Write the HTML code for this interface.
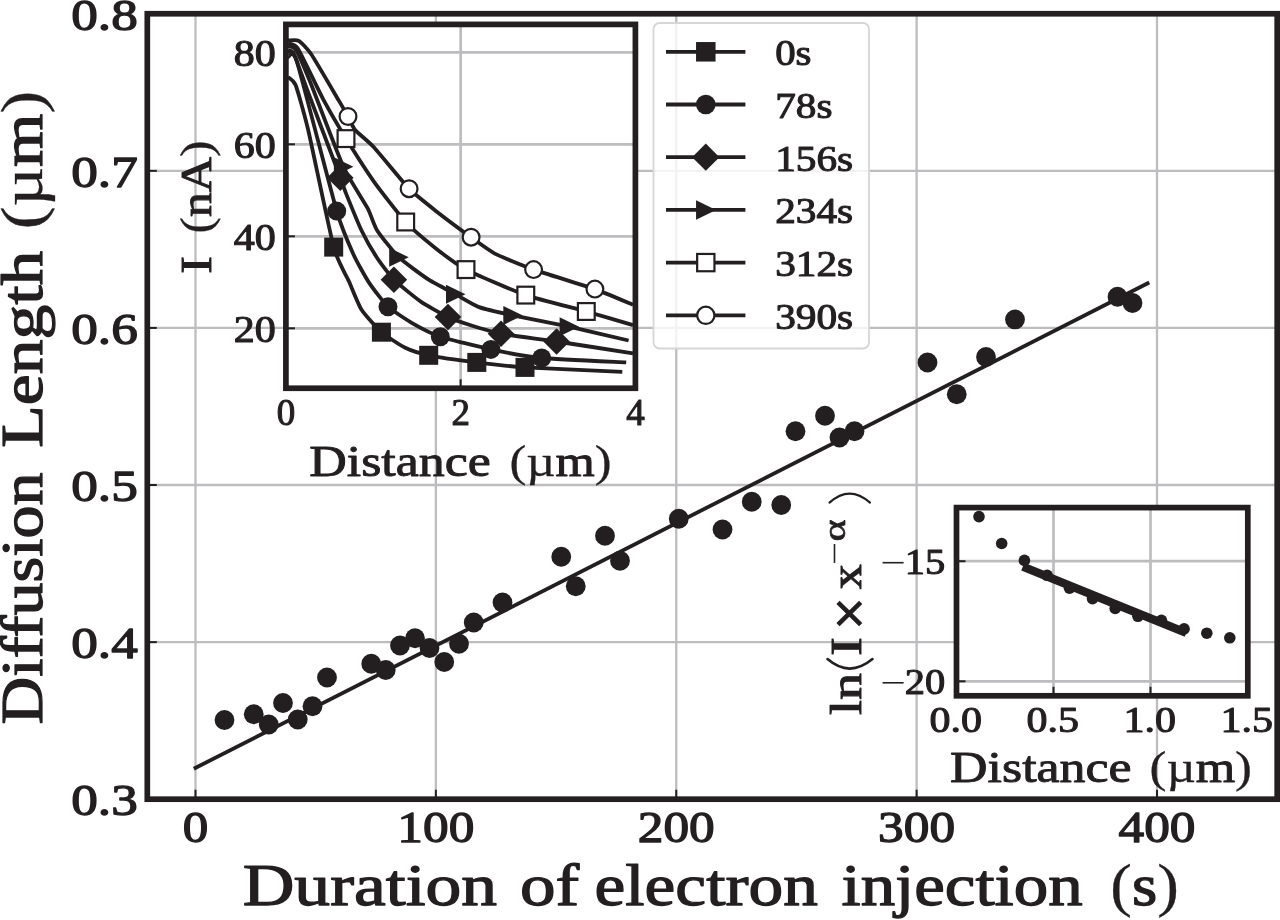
<!DOCTYPE html>
<html><head><meta charset="utf-8"><title>Diffusion length vs duration of electron injection</title>
<style>
html,body{margin:0;padding:0;background:#fff;}
body{width:1280px;height:920px;overflow:hidden;font-family:"Liberation Serif",serif;}
svg{display:block;}
</style></head><body>
<svg width="1280" height="920" viewBox="0 0 1280 920" font-family="Liberation Serif, serif" fill="#231f20">
<defs><filter id="soft" x="-2%" y="-2%" width="104%" height="104%" color-interpolation-filters="sRGB"><feGaussianBlur stdDeviation="0.65"/></filter></defs>
<rect width="1280" height="920" fill="#fff"/>
<g filter="url(#soft)">
<rect x="-20" y="-20" width="1320" height="960" fill="#fff"/>
<line x1="195.50" y1="13.75" x2="195.50" y2="799.20" stroke="#bdbdc0" stroke-width="2.3"/>
<line x1="435.88" y1="13.75" x2="435.88" y2="799.20" stroke="#bdbdc0" stroke-width="2.3"/>
<line x1="676.25" y1="13.75" x2="676.25" y2="799.20" stroke="#bdbdc0" stroke-width="2.3"/>
<line x1="916.62" y1="13.75" x2="916.62" y2="799.20" stroke="#bdbdc0" stroke-width="2.3"/>
<line x1="1157.00" y1="13.75" x2="1157.00" y2="799.20" stroke="#bdbdc0" stroke-width="2.3"/>
<line x1="147.30" y1="642.11" x2="1277.20" y2="642.11" stroke="#bdbdc0" stroke-width="2.3"/>
<line x1="147.30" y1="485.02" x2="1277.20" y2="485.02" stroke="#bdbdc0" stroke-width="2.3"/>
<line x1="147.30" y1="327.93" x2="1277.20" y2="327.93" stroke="#bdbdc0" stroke-width="2.3"/>
<line x1="147.30" y1="170.84" x2="1277.20" y2="170.84" stroke="#bdbdc0" stroke-width="2.3"/>
<line x1="195.50" y1="799.20" x2="195.50" y2="789.70" stroke="#231f20" stroke-width="2"/>
<line x1="435.88" y1="799.20" x2="435.88" y2="789.70" stroke="#231f20" stroke-width="2"/>
<line x1="676.25" y1="799.20" x2="676.25" y2="789.70" stroke="#231f20" stroke-width="2"/>
<line x1="916.62" y1="799.20" x2="916.62" y2="789.70" stroke="#231f20" stroke-width="2"/>
<line x1="1157.00" y1="799.20" x2="1157.00" y2="789.70" stroke="#231f20" stroke-width="2"/>
<line x1="147.30" y1="642.11" x2="156.80" y2="642.11" stroke="#231f20" stroke-width="2"/>
<line x1="147.30" y1="485.02" x2="156.80" y2="485.02" stroke="#231f20" stroke-width="2"/>
<line x1="147.30" y1="327.93" x2="156.80" y2="327.93" stroke="#231f20" stroke-width="2"/>
<line x1="147.30" y1="170.84" x2="156.80" y2="170.84" stroke="#231f20" stroke-width="2"/>
<line x1="193.75" y1="768.75" x2="1149.25" y2="282.5" stroke="#231f20" stroke-width="3.8"/>
<circle cx="224.50" cy="720.00" r="9.9"/>
<circle cx="253.75" cy="714.25" r="9.9"/>
<circle cx="268.75" cy="724.50" r="9.9"/>
<circle cx="283.00" cy="703.00" r="9.9"/>
<circle cx="297.75" cy="719.50" r="9.9"/>
<circle cx="312.50" cy="706.25" r="9.9"/>
<circle cx="327.00" cy="677.50" r="9.9"/>
<circle cx="371.25" cy="663.75" r="9.9"/>
<circle cx="385.75" cy="670.00" r="9.9"/>
<circle cx="400.00" cy="645.50" r="9.9"/>
<circle cx="415.00" cy="638.25" r="9.9"/>
<circle cx="429.50" cy="648.00" r="9.9"/>
<circle cx="444.25" cy="662.00" r="9.9"/>
<circle cx="459.00" cy="643.75" r="9.9"/>
<circle cx="473.75" cy="622.50" r="9.9"/>
<circle cx="502.50" cy="602.50" r="9.9"/>
<circle cx="561.25" cy="556.75" r="9.9"/>
<circle cx="575.75" cy="586.25" r="9.9"/>
<circle cx="605.00" cy="535.75" r="9.9"/>
<circle cx="620.00" cy="560.75" r="9.9"/>
<circle cx="678.75" cy="518.75" r="9.9"/>
<circle cx="722.50" cy="529.50" r="9.9"/>
<circle cx="751.75" cy="501.75" r="9.9"/>
<circle cx="781.25" cy="505.00" r="9.9"/>
<circle cx="795.50" cy="431.25" r="9.9"/>
<circle cx="825.00" cy="415.75" r="9.9"/>
<circle cx="839.50" cy="437.50" r="9.9"/>
<circle cx="854.50" cy="431.25" r="9.9"/>
<circle cx="927.50" cy="362.50" r="9.9"/>
<circle cx="956.75" cy="394.25" r="9.9"/>
<circle cx="986.00" cy="357.00" r="9.9"/>
<circle cx="1015.00" cy="319.40" r="9.9"/>
<circle cx="1117.50" cy="296.75" r="9.9"/>
<circle cx="1132.50" cy="303.00" r="9.9"/>
<rect x="285.90" y="24.40" width="349.50" height="363.85" fill="#fff"/>
<line x1="460.65" y1="24.40" x2="460.65" y2="388.25" stroke="#bdbdc0" stroke-width="2.7"/>
<line x1="285.90" y1="328.30" x2="635.40" y2="328.30" stroke="#bdbdc0" stroke-width="2.7"/>
<line x1="285.90" y1="328.30" x2="294.90" y2="328.30" stroke="#231f20" stroke-width="2"/>
<line x1="285.90" y1="236.30" x2="635.40" y2="236.30" stroke="#bdbdc0" stroke-width="2.7"/>
<line x1="285.90" y1="236.30" x2="294.90" y2="236.30" stroke="#231f20" stroke-width="2"/>
<line x1="285.90" y1="144.30" x2="635.40" y2="144.30" stroke="#bdbdc0" stroke-width="2.7"/>
<line x1="285.90" y1="144.30" x2="294.90" y2="144.30" stroke="#231f20" stroke-width="2"/>
<line x1="285.90" y1="52.30" x2="635.40" y2="52.30" stroke="#bdbdc0" stroke-width="2.7"/>
<line x1="285.90" y1="52.30" x2="294.90" y2="52.30" stroke="#231f20" stroke-width="2"/>
<line x1="460.65" y1="388.25" x2="460.65" y2="379.25" stroke="#231f20" stroke-width="2"/>
<g fill="none" stroke="#231f20" stroke-width="3.8" stroke-linejoin="round">
<path d="M288.00,77.00 C288.71,77.75 293.71,80.05 295.60,85.00 C297.49,89.95 304.64,114.87 308.20,130.00 C311.76,145.13 329.90,232.98 333.70,247.10 C337.50,261.22 346.31,275.48 348.90,281.30 C351.49,287.12 358.37,304.75 361.40,309.50 C364.43,314.25 377.31,328.63 381.40,332.20 C385.49,335.77 400.79,345.64 405.20,347.80 C409.61,349.96 422.02,353.94 428.70,355.30 C435.38,356.66 467.81,361.27 476.80,362.40 C485.79,363.53 511.42,366.52 525.00,367.40 C538.58,368.28 613.22,371.39 622.30,371.80"/>
<path d="M288.00,57.00 C288.84,57.47 292.45,47.62 297.00,62.00 C301.55,76.38 331.42,193.11 336.70,211.10 C341.98,229.09 350.57,248.00 353.60,254.70 C356.63,261.40 365.99,278.05 369.20,282.90 C372.41,287.75 383.91,302.90 388.00,306.70 C392.09,310.50 408.12,320.80 413.00,323.60 C417.88,326.40 433.03,334.29 440.30,336.70 C447.57,339.11 481.44,347.41 490.90,349.40 C500.36,351.39 529.07,356.79 541.70,358.00 C554.33,359.21 618.31,361.99 626.20,362.40"/>
<path d="M288.00,50.00 C288.56,50.37 292.13,50.08 294.00,54.00 C295.87,57.92 303.68,80.45 308.00,92.00 C312.32,103.55 336.78,168.31 340.30,177.70 C343.82,187.09 343.73,187.70 345.70,192.60 C347.67,197.50 358.48,224.11 361.40,230.20 C364.32,236.29 373.97,253.18 377.00,257.80 C380.03,262.42 389.81,275.61 393.90,279.70 C397.99,283.79 415.75,298.12 420.80,301.60 C425.85,305.08 443.41,314.82 448.00,317.00 C452.59,319.18 465.05,323.44 470.00,325.00 C474.95,326.56 492.92,332.16 501.00,333.70 C509.08,335.24 544.28,339.67 556.60,341.50 C568.92,343.33 625.87,352.20 633.00,353.30"/>
<path d="M288.00,46.00 C288.75,46.37 293.85,46.45 296.00,50.00 C298.15,53.55 306.58,73.10 311.00,84.00 C315.42,94.90 338.12,155.21 343.40,166.80 C348.68,178.39 364.46,202.28 367.60,208.20 C370.74,214.12 374.10,225.63 377.00,230.20 C379.90,234.77 393.87,252.58 398.70,257.20 C403.53,261.82 423.40,276.25 428.70,279.70 C434.00,283.15 450.80,291.64 455.50,294.20 C460.20,296.76 473.75,305.12 479.10,307.10 C484.45,309.08 504.40,313.57 512.80,315.40 C521.20,317.23 558.29,324.36 569.10,326.70 C579.91,329.04 623.05,339.21 628.60,340.50"/>
<path d="M288.00,43.30 C288.93,43.81 294.66,43.47 298.00,48.80 C301.34,54.13 319.32,92.02 323.80,100.40 C328.28,108.78 341.32,131.02 346.00,138.60 C350.68,146.18 368.33,173.82 373.90,181.60 C379.47,189.38 399.86,215.72 405.70,222.00 C411.54,228.28 430.87,244.46 436.50,248.90 C442.13,253.34 457.67,265.29 466.00,269.60 C474.33,273.91 514.57,291.19 525.80,295.10 C537.03,299.01 576.29,308.70 586.30,311.50 C596.31,314.30 628.64,323.83 633.00,325.10"/>
<path d="M288.00,40.50 C289.01,40.53 296.63,39.51 298.80,40.80 C300.97,42.09 307.58,48.74 311.30,54.30 C315.02,59.86 335.27,94.59 338.70,100.40 C342.13,106.21 346.47,113.74 348.00,116.50 C349.53,119.26 352.68,127.13 355.10,130.00 C357.52,132.87 368.86,141.72 373.90,147.20 C378.94,152.68 403.26,182.71 409.10,188.70 C414.94,194.69 430.72,206.87 436.50,211.40 C442.28,215.93 465.56,233.26 471.00,237.20 C476.44,241.14 488.96,250.58 494.80,253.60 C500.64,256.62 524.26,266.29 533.60,269.60 C542.94,272.91 585.62,285.81 594.90,289.10 C604.18,292.39 629.44,303.33 633.00,304.80"/>
</g>
<rect x="324.20" y="237.60" width="19.00" height="19.00" fill="#231f20"/>
<rect x="371.90" y="322.70" width="19.00" height="19.00" fill="#231f20"/>
<rect x="419.20" y="345.80" width="19.00" height="19.00" fill="#231f20"/>
<rect x="467.30" y="352.90" width="19.00" height="19.00" fill="#231f20"/>
<rect x="515.50" y="357.90" width="19.00" height="19.00" fill="#231f20"/>
<circle cx="336.70" cy="211.10" r="9.50" fill="#231f20"/>
<circle cx="388.00" cy="306.70" r="9.50" fill="#231f20"/>
<circle cx="440.30" cy="336.70" r="9.50" fill="#231f20"/>
<circle cx="490.90" cy="349.40" r="9.50" fill="#231f20"/>
<circle cx="541.70" cy="358.00" r="9.50" fill="#231f20"/>
<path d="M327.00,177.70 L340.30,164.40 L353.60,177.70 L340.30,191.00 Z" fill="#231f20"/>
<path d="M380.60,279.70 L393.90,266.40 L407.20,279.70 L393.90,293.00 Z" fill="#231f20"/>
<path d="M434.70,317.00 L448.00,303.70 L461.30,317.00 L448.00,330.30 Z" fill="#231f20"/>
<path d="M487.70,333.70 L501.00,320.40 L514.30,333.70 L501.00,347.00 Z" fill="#231f20"/>
<path d="M543.30,341.50 L556.60,328.20 L569.90,341.50 L556.60,354.80 Z" fill="#231f20"/>
<path d="M333.90,157.30 L353.40,166.80 L333.90,176.30 Z" fill="#231f20"/>
<path d="M389.20,247.70 L408.70,257.20 L389.20,266.70 Z" fill="#231f20"/>
<path d="M446.00,284.70 L465.50,294.20 L446.00,303.70 Z" fill="#231f20"/>
<path d="M503.30,305.90 L522.80,315.40 L503.30,324.90 Z" fill="#231f20"/>
<path d="M559.60,317.20 L579.10,326.70 L559.60,336.20 Z" fill="#231f20"/>
<rect x="337.60" y="130.20" width="16.80" height="16.80" fill="#fff" stroke="#231f20" stroke-width="2.2"/>
<rect x="397.30" y="213.60" width="16.80" height="16.80" fill="#fff" stroke="#231f20" stroke-width="2.2"/>
<rect x="457.60" y="261.20" width="16.80" height="16.80" fill="#fff" stroke="#231f20" stroke-width="2.2"/>
<rect x="517.40" y="286.70" width="16.80" height="16.80" fill="#fff" stroke="#231f20" stroke-width="2.2"/>
<rect x="577.90" y="303.10" width="16.80" height="16.80" fill="#fff" stroke="#231f20" stroke-width="2.2"/>
<circle cx="348.00" cy="116.50" r="8.40" fill="#fff" stroke="#231f20" stroke-width="2.2"/>
<circle cx="409.10" cy="188.70" r="8.40" fill="#fff" stroke="#231f20" stroke-width="2.2"/>
<circle cx="471.10" cy="237.20" r="8.40" fill="#fff" stroke="#231f20" stroke-width="2.2"/>
<circle cx="533.60" cy="269.60" r="8.40" fill="#fff" stroke="#231f20" stroke-width="2.2"/>
<circle cx="594.90" cy="289.10" r="8.40" fill="#fff" stroke="#231f20" stroke-width="2.2"/>
<rect x="285.90" y="24.40" width="349.50" height="363.85" fill="none" stroke="#231f20" stroke-width="5.7"/>
<rect x="956.50" y="507.60" width="291.30" height="188.20" fill="#fff"/>
<line x1="1053.50" y1="507.60" x2="1053.50" y2="695.80" stroke="#bdbdc0" stroke-width="2.7"/>
<line x1="1053.50" y1="695.80" x2="1053.50" y2="686.80" stroke="#231f20" stroke-width="2"/>
<line x1="1150.50" y1="507.60" x2="1150.50" y2="695.80" stroke="#bdbdc0" stroke-width="2.7"/>
<line x1="1150.50" y1="695.80" x2="1150.50" y2="686.80" stroke="#231f20" stroke-width="2"/>
<line x1="956.50" y1="561.20" x2="1247.80" y2="561.20" stroke="#bdbdc0" stroke-width="2.7"/>
<line x1="956.50" y1="561.20" x2="965.50" y2="561.20" stroke="#231f20" stroke-width="2"/>
<line x1="956.50" y1="681.30" x2="1247.80" y2="681.30" stroke="#bdbdc0" stroke-width="2.7"/>
<line x1="956.50" y1="681.30" x2="965.50" y2="681.30" stroke="#231f20" stroke-width="2"/>
<circle cx="979.00" cy="516.60" r="5.8"/>
<circle cx="1001.70" cy="543.50" r="5.8"/>
<circle cx="1024.40" cy="560.40" r="5.8"/>
<circle cx="1047.10" cy="575.30" r="5.8"/>
<circle cx="1069.50" cy="588.20" r="5.8"/>
<circle cx="1092.50" cy="598.60" r="5.8"/>
<circle cx="1115.20" cy="608.50" r="5.8"/>
<circle cx="1137.90" cy="616.30" r="5.8"/>
<circle cx="1161.40" cy="620.30" r="5.8"/>
<circle cx="1184.10" cy="628.90" r="5.8"/>
<circle cx="1206.80" cy="633.20" r="5.8"/>
<circle cx="1229.80" cy="637.80" r="5.8"/>
<line x1="1022.8" y1="566.7" x2="1186.3" y2="632.9" stroke="#231f20" stroke-width="8.4"/>
<rect x="956.50" y="507.60" width="291.30" height="188.20" fill="none" stroke="#231f20" stroke-width="5.7"/>
<rect x="653.5" y="23" width="215.5" height="325.5" rx="6" ry="6" fill="#fff" fill-opacity="0.8" stroke="#d6d6d6" stroke-width="1.8"/>
<line x1="666" y1="51.80" x2="745.4" y2="51.80" stroke="#231f20" stroke-width="3.8"/>
<rect x="696.05" y="42.05" width="19.50" height="19.50" fill="#231f20"/>
<text x="775.20" y="65.20" font-size="36.00" font-weight="normal" text-anchor="start" textLength="36.3" lengthAdjust="spacingAndGlyphs"  stroke="#231f20" stroke-width="1.04" stroke-linejoin="round">0s</text>
<line x1="666" y1="104.50" x2="745.4" y2="104.50" stroke="#231f20" stroke-width="3.8"/>
<circle cx="705.80" cy="104.50" r="9.75" fill="#231f20"/>
<text x="775.20" y="117.90" font-size="36.00" font-weight="normal" text-anchor="start" textLength="57.3" lengthAdjust="spacingAndGlyphs"  stroke="#231f20" stroke-width="1.04" stroke-linejoin="round">78s</text>
<line x1="666" y1="157.20" x2="745.4" y2="157.20" stroke="#231f20" stroke-width="3.8"/>
<path d="M692.15,157.20 L705.80,143.55 L719.45,157.20 L705.80,170.85 Z" fill="#231f20"/>
<text x="775.20" y="170.60" font-size="36.00" font-weight="normal" text-anchor="start" textLength="78.0" lengthAdjust="spacingAndGlyphs"  stroke="#231f20" stroke-width="1.04" stroke-linejoin="round">156s</text>
<line x1="666" y1="209.90" x2="745.4" y2="209.90" stroke="#231f20" stroke-width="3.8"/>
<path d="M696.05,200.15 L716.05,209.90 L696.05,219.65 Z" fill="#231f20"/>
<text x="775.20" y="223.30" font-size="36.00" font-weight="normal" text-anchor="start" textLength="78.0" lengthAdjust="spacingAndGlyphs"  stroke="#231f20" stroke-width="1.04" stroke-linejoin="round">234s</text>
<line x1="666" y1="262.60" x2="745.4" y2="262.60" stroke="#231f20" stroke-width="3.8"/>
<rect x="697.15" y="253.95" width="17.30" height="17.30" fill="#fff" stroke="#231f20" stroke-width="2.2"/>
<text x="775.20" y="276.00" font-size="36.00" font-weight="normal" text-anchor="start" textLength="78.0" lengthAdjust="spacingAndGlyphs"  stroke="#231f20" stroke-width="1.04" stroke-linejoin="round">312s</text>
<line x1="666" y1="315.30" x2="745.4" y2="315.30" stroke="#231f20" stroke-width="3.8"/>
<circle cx="705.80" cy="315.30" r="8.65" fill="#fff" stroke="#231f20" stroke-width="2.2"/>
<text x="775.20" y="328.70" font-size="36.00" font-weight="normal" text-anchor="start" textLength="78.0" lengthAdjust="spacingAndGlyphs"  stroke="#231f20" stroke-width="1.04" stroke-linejoin="round">390s</text>
<rect x="147.30" y="13.75" width="1129.90" height="785.45" fill="none" stroke="#231f20" stroke-width="5.7"/>
<text x="104.50" y="815.20" font-size="44.50" font-weight="normal" text-anchor="middle" textLength="66.5" lengthAdjust="spacingAndGlyphs"  stroke="#231f20" stroke-width="1.29" stroke-linejoin="round">0.3</text>
<text x="104.50" y="658.11" font-size="44.50" font-weight="normal" text-anchor="middle" textLength="66.5" lengthAdjust="spacingAndGlyphs"  stroke="#231f20" stroke-width="1.29" stroke-linejoin="round">0.4</text>
<text x="104.50" y="501.02" font-size="44.50" font-weight="normal" text-anchor="middle" textLength="66.5" lengthAdjust="spacingAndGlyphs"  stroke="#231f20" stroke-width="1.29" stroke-linejoin="round">0.5</text>
<text x="104.50" y="343.93" font-size="44.50" font-weight="normal" text-anchor="middle" textLength="66.5" lengthAdjust="spacingAndGlyphs"  stroke="#231f20" stroke-width="1.29" stroke-linejoin="round">0.6</text>
<text x="104.50" y="186.84" font-size="44.50" font-weight="normal" text-anchor="middle" textLength="66.5" lengthAdjust="spacingAndGlyphs"  stroke="#231f20" stroke-width="1.29" stroke-linejoin="round">0.7</text>
<text x="104.50" y="29.75" font-size="44.50" font-weight="normal" text-anchor="middle" textLength="66.5" lengthAdjust="spacingAndGlyphs"  stroke="#231f20" stroke-width="1.29" stroke-linejoin="round">0.8</text>
<text x="195.50" y="842.00" font-size="44.50" font-weight="normal" text-anchor="middle" textLength="25.5" lengthAdjust="spacingAndGlyphs"  stroke="#231f20" stroke-width="1.29" stroke-linejoin="round">0</text>
<text x="435.88" y="842.00" font-size="44.50" font-weight="normal" text-anchor="middle" textLength="77.0" lengthAdjust="spacingAndGlyphs"  stroke="#231f20" stroke-width="1.29" stroke-linejoin="round">100</text>
<text x="676.25" y="842.00" font-size="44.50" font-weight="normal" text-anchor="middle" textLength="77.0" lengthAdjust="spacingAndGlyphs"  stroke="#231f20" stroke-width="1.29" stroke-linejoin="round">200</text>
<text x="916.62" y="842.00" font-size="44.50" font-weight="normal" text-anchor="middle" textLength="77.0" lengthAdjust="spacingAndGlyphs"  stroke="#231f20" stroke-width="1.29" stroke-linejoin="round">300</text>
<text x="1157.00" y="842.00" font-size="44.50" font-weight="normal" text-anchor="middle" textLength="77.0" lengthAdjust="spacingAndGlyphs"  stroke="#231f20" stroke-width="1.29" stroke-linejoin="round">400</text>
<text x="242.70" y="905.00" font-size="59.00" font-weight="normal" text-anchor="start" textLength="254.4" lengthAdjust="spacingAndGlyphs"  stroke="#231f20" stroke-width="1.25" stroke-linejoin="round">Duration</text>
<text x="520.00" y="905.00" font-size="59.00" font-weight="normal" text-anchor="start" textLength="59.2" lengthAdjust="spacingAndGlyphs"  stroke="#231f20" stroke-width="1.25" stroke-linejoin="round">of</text>
<text x="594.60" y="905.00" font-size="59.00" font-weight="normal" text-anchor="start" textLength="223.2" lengthAdjust="spacingAndGlyphs"  stroke="#231f20" stroke-width="1.25" stroke-linejoin="round">electron</text>
<text x="841.50" y="905.00" font-size="59.00" font-weight="normal" text-anchor="start" textLength="241.2" lengthAdjust="spacingAndGlyphs"  stroke="#231f20" stroke-width="1.25" stroke-linejoin="round">injection</text>
<text x="1110.30" y="905.00" font-size="59.00" font-weight="normal" text-anchor="start" textLength="68.5" lengthAdjust="spacingAndGlyphs"  stroke="#231f20" stroke-width="1.25" stroke-linejoin="round"><tspan stroke-width="0.3">(</tspan>s<tspan stroke-width="0.3">)</tspan></text>
<g transform="translate(42,0) rotate(-90)">
<text x="-724.40" y="0.00" font-size="59.00" font-weight="normal" text-anchor="start" textLength="252.0" lengthAdjust="spacingAndGlyphs"  stroke="#231f20" stroke-width="1.25" stroke-linejoin="round">Diffusion</text>
<text x="-447.70" y="0.00" font-size="59.00" font-weight="normal" text-anchor="start" textLength="197.0" lengthAdjust="spacingAndGlyphs"  stroke="#231f20" stroke-width="1.25" stroke-linejoin="round">Length</text>
<text x="-229.30" y="0.00" font-size="59.00" font-weight="normal" text-anchor="start" textLength="138.5" lengthAdjust="spacingAndGlyphs"  stroke="#231f20" stroke-width="1.25" stroke-linejoin="round"><tspan stroke-width="0.3">(µ</tspan>m<tspan stroke-width="0.3">)</tspan></text>
</g>
<text x="254.80" y="341.90" font-size="37.50" font-weight="normal" text-anchor="middle" textLength="42.0" lengthAdjust="spacingAndGlyphs"  stroke="#231f20" stroke-width="1.08" stroke-linejoin="round">20</text>
<text x="254.80" y="249.90" font-size="37.50" font-weight="normal" text-anchor="middle" textLength="42.0" lengthAdjust="spacingAndGlyphs"  stroke="#231f20" stroke-width="1.08" stroke-linejoin="round">40</text>
<text x="254.80" y="157.90" font-size="37.50" font-weight="normal" text-anchor="middle" textLength="42.0" lengthAdjust="spacingAndGlyphs"  stroke="#231f20" stroke-width="1.08" stroke-linejoin="round">60</text>
<text x="254.80" y="65.90" font-size="37.50" font-weight="normal" text-anchor="middle" textLength="42.0" lengthAdjust="spacingAndGlyphs"  stroke="#231f20" stroke-width="1.08" stroke-linejoin="round">80</text>
<text x="285.90" y="425.00" font-size="37.00" font-weight="normal" text-anchor="middle"  stroke="#231f20" stroke-width="1.07" stroke-linejoin="round">0</text>
<text x="460.65" y="425.00" font-size="37.00" font-weight="normal" text-anchor="middle"  stroke="#231f20" stroke-width="1.07" stroke-linejoin="round">2</text>
<text x="635.40" y="425.00" font-size="37.00" font-weight="normal" text-anchor="middle"  stroke="#231f20" stroke-width="1.07" stroke-linejoin="round">4</text>
<text x="309.30" y="476.10" font-size="45.00" font-weight="normal" text-anchor="start" textLength="181.5" lengthAdjust="spacingAndGlyphs"  stroke="#231f20" stroke-width="0.95" stroke-linejoin="round">Distance</text>
<text x="509.50" y="476.10" font-size="45.00" font-weight="normal" text-anchor="start" textLength="102.0" lengthAdjust="spacingAndGlyphs"  stroke="#231f20" stroke-width="0.95" stroke-linejoin="round"><tspan stroke-width="0.3">(µ</tspan>m<tspan stroke-width="0.3">)</tspan></text>
<g transform="translate(211.3,0) rotate(-90)">
<text x="-274.00" y="0.00" font-size="45.00" font-weight="normal" text-anchor="start" textLength="18.0" lengthAdjust="spacingAndGlyphs"  stroke="#231f20" stroke-width="0.95" stroke-linejoin="round">I</text>
<text x="-233.50" y="0.00" font-size="45.00" font-weight="normal" text-anchor="start" textLength="93.0" lengthAdjust="spacingAndGlyphs"  stroke="#231f20" stroke-width="0.95" stroke-linejoin="round"><tspan stroke-width="0.3">(</tspan>nA<tspan stroke-width="0.3">)</tspan></text>
</g>
<text x="925.00" y="573.80" font-size="36.00" font-weight="normal" text-anchor="middle" textLength="40.5" lengthAdjust="spacingAndGlyphs"  stroke="#231f20" stroke-width="1.04" stroke-linejoin="round">15</text>
<line x1="882.6" y1="562.70" x2="903.6" y2="562.70" stroke="#231f20" stroke-width="1.6"/>
<text x="925.00" y="693.90" font-size="36.00" font-weight="normal" text-anchor="middle" textLength="40.5" lengthAdjust="spacingAndGlyphs"  stroke="#231f20" stroke-width="1.04" stroke-linejoin="round">20</text>
<line x1="882.6" y1="682.80" x2="903.6" y2="682.80" stroke="#231f20" stroke-width="1.6"/>
<text x="955.80" y="732.00" font-size="36.00" font-weight="normal" text-anchor="middle" textLength="52.5" lengthAdjust="spacingAndGlyphs"  stroke="#231f20" stroke-width="1.04" stroke-linejoin="round">0.0</text>
<text x="1052.80" y="732.00" font-size="36.00" font-weight="normal" text-anchor="middle" textLength="52.5" lengthAdjust="spacingAndGlyphs"  stroke="#231f20" stroke-width="1.04" stroke-linejoin="round">0.5</text>
<text x="1149.80" y="732.00" font-size="36.00" font-weight="normal" text-anchor="middle" textLength="52.5" lengthAdjust="spacingAndGlyphs"  stroke="#231f20" stroke-width="1.04" stroke-linejoin="round">1.0</text>
<text x="1246.80" y="732.00" font-size="36.00" font-weight="normal" text-anchor="middle" textLength="52.5" lengthAdjust="spacingAndGlyphs"  stroke="#231f20" stroke-width="1.04" stroke-linejoin="round">1.5</text>
<text x="950.10" y="782.20" font-size="45.00" font-weight="normal" text-anchor="start" textLength="181.5" lengthAdjust="spacingAndGlyphs"  stroke="#231f20" stroke-width="0.95" stroke-linejoin="round">Distance</text>
<text x="1149.50" y="782.20" font-size="45.00" font-weight="normal" text-anchor="start" textLength="102.5" lengthAdjust="spacingAndGlyphs"  stroke="#231f20" stroke-width="0.95" stroke-linejoin="round"><tspan stroke-width="0.3">(µ</tspan>m<tspan stroke-width="0.3">)</tspan></text>
<g transform="translate(860.5,0) rotate(-90)">
<text x="-715.00" y="0.00" font-size="45.00" font-weight="normal" text-anchor="start" textLength="42.0" lengthAdjust="spacingAndGlyphs"  stroke="#231f20" stroke-width="1.00" stroke-linejoin="round">ln</text>
<path d="M-659.1,-33 Q-678,-11 -659.1,12" fill="none" stroke="#231f20" stroke-width="2.6" stroke-linecap="round"/>
<text x="-656.00" y="0.00" font-size="45.00" font-weight="normal" text-anchor="start" textLength="19.0" lengthAdjust="spacingAndGlyphs"  stroke="#231f20" stroke-width="1.00" stroke-linejoin="round">I</text>
<path d="M-624.7,-22.5 L-602.3,0.2 M-624.7,0.2 L-602.3,-22.5" fill="none" stroke="#231f20" stroke-width="4.6"/>
<text x="-589.30" y="0.00" font-size="45.00" font-weight="normal" text-anchor="start" textLength="25.0" lengthAdjust="spacingAndGlyphs"  stroke="#231f20" stroke-width="1.00" stroke-linejoin="round">x</text>
<line x1="-562.90" y1="-26" x2="-544.00" y2="-26" stroke="#231f20" stroke-width="1.6"/>
<text x="-541.50" y="-16.00" font-size="32.00" font-weight="normal" text-anchor="start" textLength="22.0" lengthAdjust="spacingAndGlyphs"  stroke="#231f20" stroke-width="0.71" stroke-linejoin="round">α</text>
<path d="M-502.6,-31 Q-484.5,-11 -502.6,9.5" fill="none" stroke="#231f20" stroke-width="2.2" stroke-linecap="round"/>
</g>
</g>
</svg>
</body></html>
